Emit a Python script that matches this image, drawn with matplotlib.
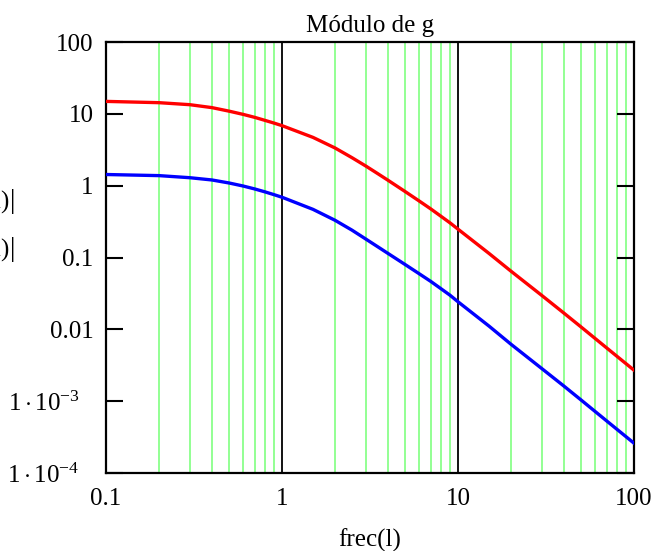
import matplotlib
matplotlib.use("Agg")
import matplotlib.pyplot as plt
from matplotlib.ticker import FixedLocator

plt.rcParams['font.family'] = ['Liberation Serif', 'DejaVu Serif']
plt.rcParams['mathtext.fontset'] = 'custom'
plt.rcParams['mathtext.rm'] = 'Liberation Serif'
plt.rcParams['mathtext.it'] = 'Liberation Serif:italic'

freq = [0.1, 0.2, 0.3, 0.4, 0.5, 0.6, 0.7, 0.8, 0.9, 1, 1.5, 2, 2.5, 3, 3.5, 4, 5, 6,
        7, 8, 9, 10, 15, 20, 30, 40, 50, 70, 100]
g_red = [14.9, 14.3, 13.4, 12.2, 10.9, 9.84, 8.93, 8.11, 7.44, 6.85, 4.7, 3.35, 2.45,
         1.87, 1.47, 1.19, 0.83, 0.615, 0.475, 0.375, 0.304, 0.248, 0.114, 0.0645,
         0.0295, 0.0168, 0.0108, 0.0055, 0.0027]
g_blue = [1.43, 1.38, 1.29, 1.20, 1.09, 0.99, 0.90, 0.82, 0.75, 0.69, 0.468, 0.33, 0.24,
          0.18, 0.141, 0.114, 0.08, 0.0597, 0.0465, 0.0368, 0.0299, 0.0242, 0.0111,
          0.0062, 0.00283, 0.00162, 0.00104, 0.00053, 0.00026]

x_ticks = [0.1, 1, 10, 100]
x_labels = ['0.1', '1', '10', '100']
y_ticks = [1e-4, 1e-3, 0.01, 0.1, 1, 10, 100]
y_labels = [r'$1\cdot10^{-4}$', r'$1\cdot10^{-3}$', '0.01', '0.1', '1', '10', '100']

FS = 18
W, H = 660, 551
fig = plt.figure(figsize=(W / 100, H / 100), dpi=100)
ax = fig.add_axes([106 / W, 1 - 473 / H, (634 - 106) / W, (473 - 42) / H])
ax.set_xscale('log')
ax.set_yscale('log')
ax.set_xlim(0.1, 100)
ax.set_ylim(1e-4, 100)

# grid lines
minor = [m * d for d in (0.1, 1, 10) for m in range(2, 10)]
for v in minor:
    ax.axvline(v, color='#80ff80', lw=1.2, zorder=1)
for v in (1, 10):
    ax.axvline(v, color='black', lw=1.3, zorder=1)

ax.plot(freq, g_red, color='#ff0000', lw=2.4, zorder=3)
ax.plot(freq, g_blue, color='#0000ff', lw=2.4, zorder=3)

ax.xaxis.set_major_locator(FixedLocator(x_ticks))
ax.xaxis.set_minor_locator(FixedLocator([]))
ax.set_xticklabels(x_labels)
ax.yaxis.set_major_locator(FixedLocator(y_ticks))
ax.yaxis.set_minor_locator(FixedLocator([]))
ax.set_yticklabels(y_labels)

ax.tick_params(axis='x', length=0, pad=11, labelsize=FS)
ax.tick_params(axis='y', which='major', direction='in', length=12, width=1.5,
               left=True, right=True, pad=9, labelsize=FS)
for s in ax.spines.values():
    s.set_linewidth(1.6)

# exponent labels sit further left, as in the reference
for lab in ax.get_yticklabels()[:2]:
    lab.set_x(-14 / 528)

ax.set_title('Módulo de g', fontsize=FS, pad=7)
ax.set_xlabel('frec(l)', fontsize=FS, labelpad=13)

fig.text(14 / W, 1 - 202 / H, r'$\left|\mathrm{g1(l)}\right|$', ha='right', va='center',
         fontsize=FS)
fig.text(14 / W, 1 - 249 / H, r'$\left|\mathrm{g2(l)}\right|$', ha='right', va='center',
         fontsize=FS)

fig.savefig('out.png', dpi=100)
